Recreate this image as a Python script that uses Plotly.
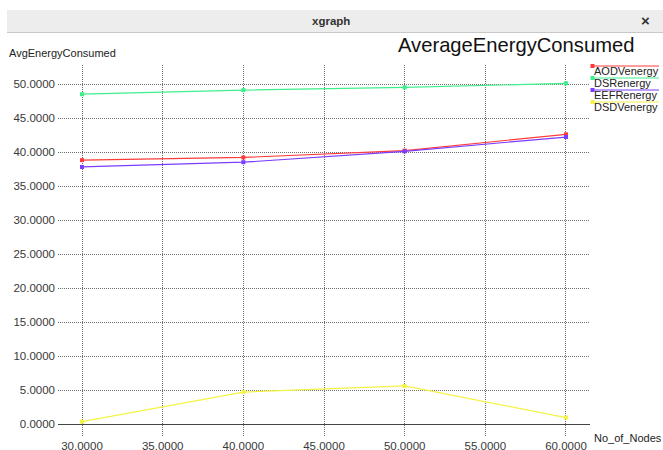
import plotly.graph_objects as go

# Number of nodes on the x axis
nodes = [30, 40, 50, 60]

# Average energy consumed per protocol
series_names = ["AODVenergy", "DSRenergy", "EEFRenergy", "DSDVenergy"]
aodv_energy = [38.8, 39.2, 40.2, 42.6]
dsr_energy = [48.5, 49.1, 49.5, 50.1]
eefr_energy = [37.8, 38.5, 40.1, 42.2]
dsdv_energy = [0.35, 4.7, 5.6, 0.95]

series_values = [aodv_energy, dsr_energy, eefr_energy, dsdv_energy]
series_colors = ["#ff3a3a", "#3ef08c", "#7a3cff", "#f4f444"]

x_ticks = [30, 35, 40, 45, 50, 55, 60]
y_ticks = [0, 5, 10, 15, 20, 25, 30, 35, 40, 45, 50]

W, H = 663, 450
L, R, T, B = 58, 590, 65, 437  # plot area edges in pixels


def px(x):
    return (x - L) / (R - L)


def py(y):
    return (B - y) / (B - T)


FONT = "Liberation Sans, Arial, sans-serif"

fig = go.Figure()
for name, vals, col in zip(series_names, series_values, series_colors):
    fig.add_trace(go.Scatter(
        x=nodes, y=vals, name=name, mode="lines+markers",
        line=dict(color=col, width=1.2),
        marker=dict(color=col, size=4, symbol="square"),
        showlegend=False,
    ))

shapes = []
annotations = []

# window title bar
shapes.append(dict(type="rect", xref="paper", yref="paper",
                   x0=px(7), x1=px(663), y0=py(32), y1=py(10),
                   fillcolor="#ededed", line=dict(width=0), layer="below"))
shapes.append(dict(type="line", xref="paper", yref="paper",
                   x0=px(7), x1=px(663), y0=py(32.5), y1=py(32.5),
                   line=dict(color="#c8c8c8", width=1)))
annotations.append(dict(text="<b>xgraph</b>", xref="paper", yref="paper",
                        x=px(331), y=py(21), showarrow=False,
                        font=dict(family=FONT, size=11.5, color="#333"),
                        xanchor="center", yanchor="middle"))
annotations.append(dict(text="<b>×</b>", xref="paper", yref="paper",
                        x=px(645), y=py(20), showarrow=False,
                        font=dict(family=FONT, size=15, color="#333"),
                        xanchor="center", yanchor="middle"))

# chart title and axis labels
annotations.append(dict(text="AverageEnergyConsumed", xref="paper", yref="paper",
                        x=px(396), y=py(45), showarrow=False,
                        font=dict(family=FONT, size=20.2, color="#111"),
                        xanchor="left", yanchor="middle"))
annotations.append(dict(text="AvgEnergyConsumed", xref="paper", yref="paper",
                        x=px(7), y=py(53), showarrow=False,
                        font=dict(family=FONT, size=11, color="#222"),
                        xanchor="left", yanchor="middle"))
annotations.append(dict(text="No_of_Nodes", xref="paper", yref="paper",
                        x=px(592), y=py(438), showarrow=False,
                        font=dict(family=FONT, size=11, color="#222"),
                        xanchor="left", yanchor="middle"))

# legend: coloured line above each name with a marker at its left end
legend_y = [66, 78, 90, 102]
for name, col, ly in zip(series_names, series_colors, legend_y):
    shapes.append(dict(type="line", xref="paper", yref="paper",
                       x0=px(591), x1=px(659), y0=py(ly), y1=py(ly),
                       line=dict(color=col, width=1.2)))
    shapes.append(dict(type="rect", xref="paper", yref="paper",
                       x0=px(590.5), x1=px(594.5), y0=py(ly + 2), y1=py(ly - 2),
                       fillcolor=col, line=dict(width=0)))
    annotations.append(dict(text=name, xref="paper", yref="paper",
                            x=px(592), y=py(ly + 5), showarrow=False,
                            font=dict(family=FONT, size=11, color="#222"),
                            xanchor="left", yanchor="middle"))

fig.update_layout(
    width=W, height=H,
    margin=dict(l=L, r=W - R, t=T, b=H - B, pad=0),
    paper_bgcolor="white", plot_bgcolor="white",
    template="none",
    shapes=shapes, annotations=annotations,
    xaxis=dict(
        range=[28.512, 61.488], tickvals=x_ticks, tickformat=".4f",
        showgrid=True, gridcolor="#6e6e6e", griddash="1px,1px", gridwidth=1,
        zeroline=False, showline=False, ticks="", automargin=False,
        tickfont=dict(family=FONT, size=11.5, color="#383838"),
    ),
    yaxis=dict(
        range=[-1.912, 52.794], tickvals=y_ticks, tickformat=".4f",
        showgrid=True, gridcolor="#6e6e6e", griddash="1px,1px", gridwidth=1,
        zeroline=True, zerolinecolor="#444", zerolinewidth=1.2,
        showline=False, ticks="", automargin=False, ticklabelstandoff=2,
        tickfont=dict(family=FONT, size=11.5, color="#383838"),
    ),
)

fig.write_html("out.html")
